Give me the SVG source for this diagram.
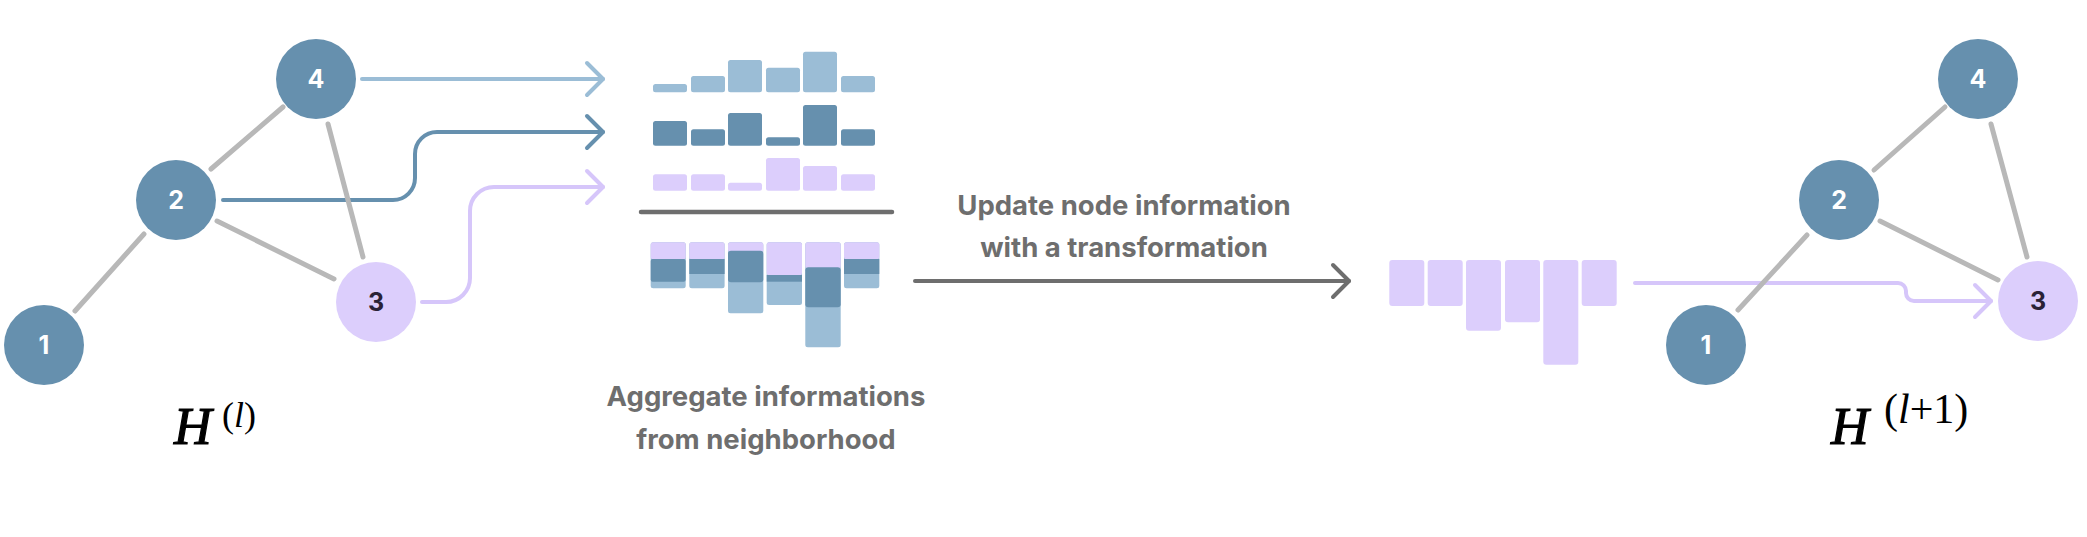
<svg xmlns="http://www.w3.org/2000/svg" width="2087" height="537" viewBox="0 0 2087 537">
<defs>
<style>
.edge{stroke:#b8b8b8;stroke-width:5;stroke-linecap:round;fill:none}
.dk{fill:#6690ae}
.lb{fill:#9bbdd6}
.lv{fill:#dccefc}
.ntxt{font-family:Inter,"Noto Sans",sans-serif;font-weight:700;font-size:25px;text-anchor:middle;fill:#ffffff}
.ntxt3{fill:#2a2236}
.lbl{font-family:Inter,"Noto Sans",sans-serif;font-weight:700;font-size:27.5px;text-anchor:middle;fill:#6e6e6e}
.math{font-family:"Liberation Serif","DejaVu Serif",serif;fill:#000}
.hb{stroke:#000;stroke-width:1.2}
.conn{fill:none;stroke-width:4;stroke-linecap:round;stroke-linejoin:round}
</style>
<marker id="mLb" markerUnits="userSpaceOnUse" viewBox="-20 -20 24 40" refX="0" refY="0" markerWidth="24" markerHeight="40" orient="auto" overflow="visible"><path d="M-16,-16 L0,0 L-16,16" fill="none" stroke="#9bbdd6" stroke-width="4" stroke-linecap="round" stroke-linejoin="round"/></marker>
<marker id="mDk" markerUnits="userSpaceOnUse" viewBox="-20 -20 24 40" refX="0" refY="0" markerWidth="24" markerHeight="40" orient="auto" overflow="visible"><path d="M-16,-16 L0,0 L-16,16" fill="none" stroke="#6690ae" stroke-width="4" stroke-linecap="round" stroke-linejoin="round"/></marker>
<marker id="mLv" markerUnits="userSpaceOnUse" viewBox="-20 -20 24 40" refX="0" refY="0" markerWidth="24" markerHeight="40" orient="auto" overflow="visible"><path d="M-16,-16 L0,0 L-16,16" fill="none" stroke="#d6c6fa" stroke-width="4" stroke-linecap="round" stroke-linejoin="round"/></marker>
<marker id="mGr" markerUnits="userSpaceOnUse" viewBox="-20 -20 24 40" refX="0" refY="0" markerWidth="24" markerHeight="40" orient="auto" overflow="visible"><path d="M-16,-16 L0,0 L-16,16" fill="none" stroke="#6e6e6e" stroke-width="4" stroke-linecap="round" stroke-linejoin="round"/></marker>
</defs>
<rect width="2087" height="537" fill="#ffffff"/>

<g id="connectors">
<path class="conn" stroke="#9bbdd6" d="M362,79 H603" marker-end="url(#mLb)"/>
<path class="conn" stroke="#6690ae" d="M223,200 H393 A22,22 0 0 0 415,178 V154 A22,22 0 0 1 437,132 H603" marker-end="url(#mDk)"/>
<path class="conn" stroke="#d6c6fa" d="M422,302 H446 A24,24 0 0 0 470,278 V211 A24,24 0 0 1 494,187 H603" marker-end="url(#mLv)"/>
<line class="edge" x1="75" y1="311" x2="144" y2="234"/>
<line class="edge" x1="211" y1="169" x2="283" y2="107"/>
<line class="edge" x1="328" y1="124" x2="363" y2="257"/>
<line class="edge" x1="217" y1="221" x2="334" y2="279"/>
<path class="conn" stroke="#6e6e6e" d="M915,281 H1349" marker-end="url(#mGr)"/>
<path class="conn" stroke="#d6c6fa" stroke-width="3" d="M1635,283 H1898 A8,8 0 0 1 1906,291 V293 A8,8 0 0 0 1914,301 H1991" marker-end="url(#mLv)"/>
<line class="edge" x1="1738" y1="310" x2="1807" y2="235"/>
<line class="edge" x1="1874" y1="170" x2="1945" y2="107"/>
<line class="edge" x1="1991" y1="124" x2="2027" y2="257"/>
<line class="edge" x1="1880" y1="221" x2="1998" y2="280"/>
</g>

<g id="node-1-left"><circle class="dk" cx="44" cy="345" r="40"/><text class="ntxt" x="44" y="354">1</text></g>
<g id="node-2-left"><circle class="dk" cx="176" cy="200" r="40"/><text class="ntxt" x="176" y="209">2</text></g>
<g id="node-4-left"><circle class="dk" cx="316" cy="79" r="40"/><text class="ntxt" x="316" y="88">4</text></g>
<g id="node-3-left"><circle class="lv" cx="376" cy="302" r="40"/><text class="ntxt ntxt3" x="376" y="311">3</text></g>

<g id="label-Hl" class="math">
<text class="hb" x="174" y="444" font-size="52" font-style="italic">H</text>
<text x="222" y="427" font-size="36">(<tspan font-style="italic">l</tspan>)</text>
</g>

<g id="agg-bars">
<rect class="lb" x="653" y="84" width="34" height="8.3" rx="2.5"/>
<rect class="lb" x="691" y="76" width="34" height="16.3" rx="2.5"/>
<rect class="lb" x="728" y="60" width="34" height="32.3" rx="2.5"/>
<rect class="lb" x="766" y="67.7" width="34" height="24.6" rx="2.5"/>
<rect class="lb" x="803" y="51.7" width="34" height="40.6" rx="2.5"/>
<rect class="lb" x="841" y="76" width="34" height="16.3" rx="2.5"/>

<rect class="dk" x="653" y="121" width="34" height="24.7" rx="2.5"/>
<rect class="dk" x="691" y="129.3" width="34" height="16.4" rx="2.5"/>
<rect class="dk" x="728" y="113" width="34" height="32.7" rx="2.5"/>
<rect class="dk" x="766" y="137.3" width="34" height="8.4" rx="2.5"/>
<rect class="dk" x="803" y="105" width="34" height="40.7" rx="2.5"/>
<rect class="dk" x="841" y="129.3" width="34" height="16.4" rx="2.5"/>

<rect class="lv" x="653" y="174.3" width="34" height="16.4" rx="2.5"/>
<rect class="lv" x="691" y="174.3" width="34" height="16.4" rx="2.5"/>
<rect class="lv" x="728" y="182.7" width="34" height="8" rx="2.5"/>
<rect class="lv" x="766" y="158" width="34" height="32.7" rx="2.5"/>
<rect class="lv" x="803" y="166" width="34" height="24.7" rx="2.5"/>
<rect class="lv" x="841" y="174.3" width="34" height="16.4" rx="2.5"/>

<line x1="641" y1="212" x2="892" y2="212" stroke="#6e6e6e" stroke-width="4.5" stroke-linecap="round"/>

<rect class="lb" x="650.7" y="242.3" width="35" height="46" rx="2.5"/>
<rect class="lv" x="650.7" y="242.3" width="35" height="17" rx="2.5"/>
<rect class="dk" x="650.7" y="259" width="35" height="22.7" rx="2"/>

<rect class="lb" x="689.3" y="242.3" width="35.3" height="46" rx="2.5"/>
<rect class="lv" x="689.3" y="242.3" width="35.3" height="17" rx="2.5"/>
<rect class="dk" x="689.3" y="259" width="35.3" height="15" rx="0"/>

<rect class="lb" x="728" y="242.3" width="35.3" height="71" rx="2.5"/>
<rect class="lv" x="728" y="242.3" width="35.3" height="10" rx="2.5"/>
<rect class="dk" x="728" y="250.7" width="35.3" height="31.6" rx="3"/>

<rect class="lb" x="766.7" y="242.3" width="35.3" height="62.7" rx="2.5"/>
<rect class="lv" x="766.7" y="242.3" width="35.3" height="33" rx="2.5"/>
<rect class="dk" x="766.7" y="275" width="35.3" height="6.7" rx="0"/>

<rect class="lb" x="805.3" y="242.3" width="35.4" height="105" rx="2.5"/>
<rect class="lv" x="805.3" y="242.3" width="35.4" height="26" rx="2.5"/>
<rect class="dk" x="805.3" y="267.3" width="35.4" height="40" rx="3"/>

<rect class="lb" x="844" y="242.3" width="35.3" height="46" rx="2.5"/>
<rect class="lv" x="844" y="242.3" width="35.3" height="17" rx="2.5"/>
<rect class="dk" x="844" y="259" width="35.3" height="15" rx="0"/>
</g>

<g id="label-aggregate">
<text class="lbl" x="766" y="406">Aggregate informations</text>
<text class="lbl" x="766" y="449">from neighborhood</text>
</g>

<g id="label-update">
<text class="lbl" x="1124" y="215">Update node information</text>
<text class="lbl" x="1124" y="257">with a transformation</text>
</g>

<g id="result-bars">
<rect class="lv" x="1389.3" y="260" width="35" height="46" rx="3"/>
<rect class="lv" x="1427.7" y="260" width="35" height="46" rx="3"/>
<rect class="lv" x="1466" y="260" width="35" height="70.7" rx="3"/>
<rect class="lv" x="1505" y="260" width="35" height="62.3" rx="3"/>
<rect class="lv" x="1543.3" y="260" width="35" height="104.7" rx="3"/>
<rect class="lv" x="1581.7" y="260" width="35" height="46" rx="3"/>
</g>

<g id="node-1-right"><circle class="dk" cx="1706" cy="345" r="40"/><text class="ntxt" x="1706" y="354">1</text></g>
<g id="node-2-right"><circle class="dk" cx="1839" cy="200" r="40"/><text class="ntxt" x="1839" y="209">2</text></g>
<g id="node-4-right"><circle class="dk" cx="1978" cy="79" r="40"/><text class="ntxt" x="1978" y="88">4</text></g>
<g id="node-3-right"><circle class="lv" cx="2038" cy="301" r="40"/><text class="ntxt ntxt3" x="2038" y="310">3</text></g>

<g id="label-Hl1" class="math">
<text class="hb" x="1831" y="444" font-size="52" font-style="italic">H</text>
<text x="1884" y="423" font-size="42">(<tspan font-style="italic">l</tspan>+1)</text>
</g>
</svg>
